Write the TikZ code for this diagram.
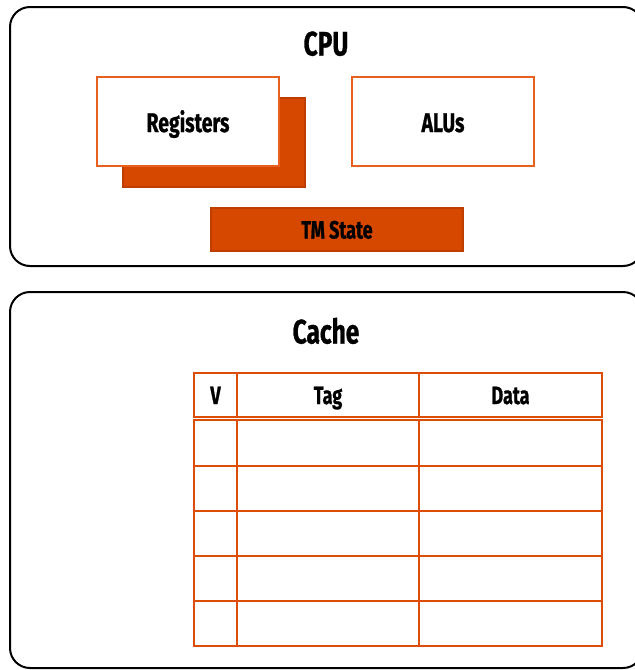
\documentclass[tikz,border=0pt]{standalone}
\usepackage{fontspec}
\setmainfont{Fira Sans}[FakeStretch=0.72,BoldFeatures={FakeBold=0.8}]
\definecolor{orfill}{RGB}{214,72,0}
\definecolor{orline}{RGB}{232,96,30}
\definecolor{ordark}{RGB}{190,62,0}
\definecolor{tabline}{RGB}{220,78,8}
\begin{document}
\begin{tikzpicture}[x=1pt,y=-1pt,
  outer/.style={draw=black,line width=2pt,rounded corners=20pt},
  whitebox/.style={draw=orline,fill=white,line width=1.8pt,minimum width=182pt,minimum height=89pt,inner sep=0pt},
  shadowbox/.style={draw=ordark,fill=orfill,line width=1.5pt,minimum width=182pt,minimum height=89pt,inner sep=0pt},
  tmbox/.style={draw=ordark,fill=orfill,line width=1.5pt,minimum width=252pt,minimum height=43pt,inner sep=0pt},
  txt/.style={anchor=base,inner sep=0pt},
  title/.style={txt,font=\bfseries\fontsize{34}{34}\selectfont},
  lbl/.style={txt,font=\bfseries\fontsize{27}{27}\selectfont},
  cell/.style={draw=tabline,line width=2.5pt,inner sep=0pt},
  hdr/.style={txt,font=\bfseries\fontsize{25}{25}\selectfont}]
\useasboundingbox (0,0) rectangle (635,670);
\clip (0,0) rectangle (635,670);
\fill[white] (0,0) rectangle (635,670);
% outer boxes
\draw[outer] (10,7) rectangle (643,266);
\draw[outer] (10,292) rectangle (643,668);
% CPU
\node[title] (cpu) at (326,55.5) {CPU};
\node[shadowbox] (regback) at (214,142.5) {};
\node[whitebox] (reg) at (188,121.5) {};
\node[lbl] (regt) at (188,132) {Registers};
\node[whitebox] (alu) at (443,121.5) {};
\node[lbl] (alut) at (443,132) {ALUs};
\node[tmbox] (tm) at (337,229.5) {};
\node[txt,font=\bfseries\fontsize{25}{25}\selectfont] (tmt) at (337,238.5) {TM State};
% Cache
\node[title] (cache) at (326,343.5) {Cache};
% table header
\draw[cell] (194,373) rectangle (237,417);
\draw[cell] (237,373) rectangle (419,417);
\draw[cell] (419,373) rectangle (602,417);
\node[hdr] (hv) at (215.5,404) {V};
\node[hdr] (ht) at (328,404) {Tag};
\node[hdr] (hd) at (510.5,404) {Data};
% table body
\foreach \yt/\yb in {420/466,466/511,511/556,556/601,601/646}{
  \draw[cell] (194,\yt) rectangle (237,\yb);
  \draw[cell] (237,\yt) rectangle (419,\yb);
  \draw[cell] (419,\yt) rectangle (602,\yb);
}
\end{tikzpicture}
\end{document}
